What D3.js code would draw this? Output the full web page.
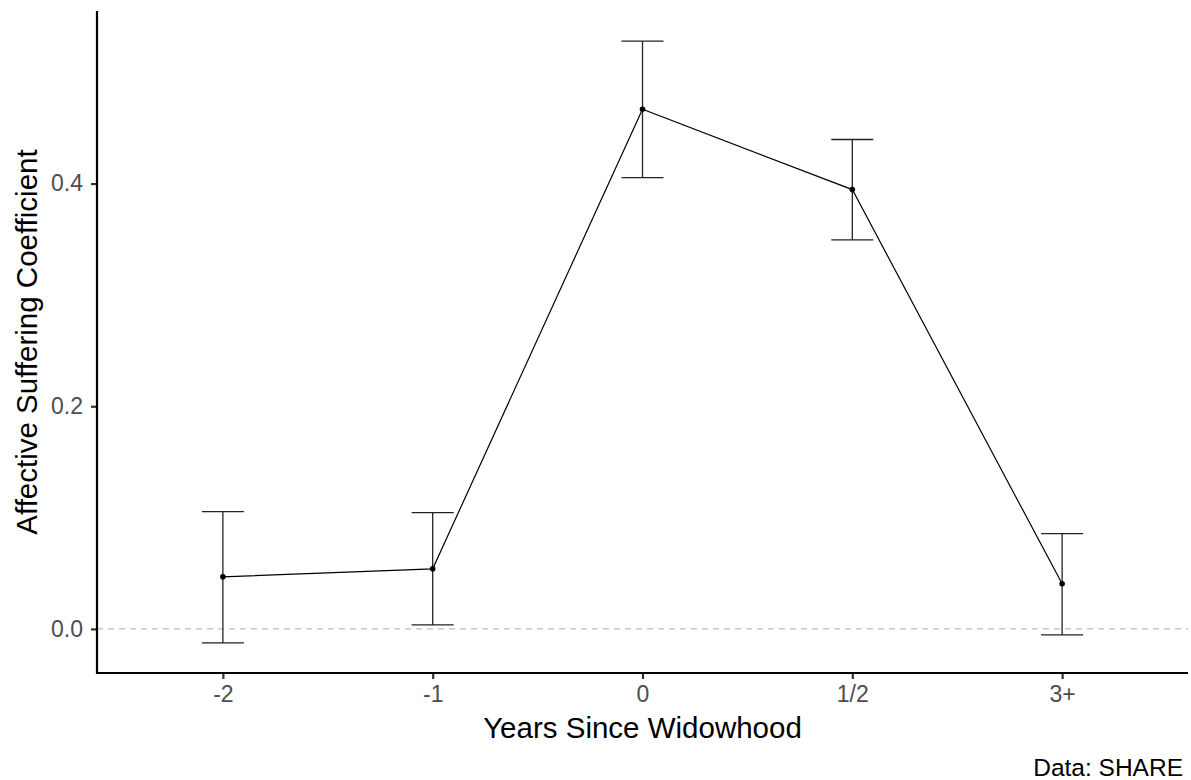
<!DOCTYPE html>
<html>
<head>
<meta charset="utf-8">
<script src="https://cdn.jsdelivr.net/npm/d3@7"></script>
<style>
  body { margin: 0; background: #fff; }
  text { font-family: "Liberation Sans", Arial, sans-serif; }
</style>
</head>
<body>
<svg id="chart" width="1191" height="780"></svg>
<script>
// data
var years = ["-2", "-1", "0", "1/2", "3+"];
var coef  = [0.0468, 0.0540, 0.4667, 0.3946, 0.0405];
var lower = [-0.0126, 0.0036, 0.4054, 0.3495, -0.0054];
var upper = [0.1054, 0.1045, 0.5280, 0.4396, 0.0856];
var yTicks = [0.0, 0.2, 0.4];

var svg = d3.select("#chart");
var pLeft = 97, pRight = 1188, pTop = 11, pBottom = 673;

var x = d3.scalePoint()
    .domain(years)
    .range([pLeft, pRight])
    .padding(0.6);   // ggplot-like 0.6 expansion on each side

var y = d3.scaleLinear()
    .domain([-0.0396, 0.555])
    .range([pBottom, pTop]);

// zero reference line
svg.append("line")
    .attr("x1", pLeft).attr("x2", pRight)
    .attr("y1", y(0)).attr("y2", y(0))
    .attr("stroke", "#bdbdbd")
    .attr("stroke-width", 1.1)
    .attr("stroke-dasharray", "6,5");

// error bars
var rows = years.map(function(d, i){ return {k: d, m: coef[i], lo: lower[i], hi: upper[i]}; });
var hw = 21;
var eb = svg.append("g").attr("stroke", "#222").attr("stroke-width", 1.3);
eb.selectAll(".v").data(rows).enter().append("line")
    .attr("x1", function(d){ return x(d.k); })
    .attr("x2", function(d){ return x(d.k); })
    .attr("y1", function(d){ return y(d.lo); })
    .attr("y2", function(d){ return y(d.hi); });
eb.selectAll(".t").data(rows).enter().append("line")
    .attr("x1", function(d){ return x(d.k) - hw; })
    .attr("x2", function(d){ return x(d.k) + hw; })
    .attr("y1", function(d){ return y(d.hi); })
    .attr("y2", function(d){ return y(d.hi); });
eb.selectAll(".b").data(rows).enter().append("line")
    .attr("x1", function(d){ return x(d.k) - hw; })
    .attr("x2", function(d){ return x(d.k) + hw; })
    .attr("y1", function(d){ return y(d.lo); })
    .attr("y2", function(d){ return y(d.lo); });

// line + points
var line = d3.line()
    .x(function(d){ return x(d.k); })
    .y(function(d){ return y(d.m); });
svg.append("path")
    .datum(rows)
    .attr("d", line)
    .attr("fill", "none")
    .attr("stroke", "#000")
    .attr("stroke-width", 1.2);
svg.selectAll("circle").data(rows).enter().append("circle")
    .attr("cx", function(d){ return x(d.k); })
    .attr("cy", function(d){ return y(d.m); })
    .attr("r", 2.8)
    .attr("fill", "#000");

// axes
var xAxis = svg.append("g")
    .attr("transform", "translate(0," + pBottom + ")")
    .call(d3.axisBottom(x).tickSize(6).tickPadding(7));
var yAxis = svg.append("g")
    .attr("transform", "translate(" + pLeft + ",0)")
    .call(d3.axisLeft(y).tickValues(yTicks).tickFormat(d3.format(".1f")).tickSize(6).tickPadding(8));

[xAxis, yAxis].forEach(function(a){
  a.attr("font-family", null).attr("font-size", null);
  a.select(".domain").remove();
  a.selectAll(".tick line").attr("stroke", "#333").attr("stroke-width", 2.2);
  a.selectAll(".tick text").attr("fill", "#4d4d4d").attr("font-size", "23px");
});

svg.append("line")
    .attr("x1", pLeft).attr("x2", pLeft)
    .attr("y1", pTop).attr("y2", pBottom + 1)
    .attr("stroke", "#000").attr("stroke-width", 2.2);
svg.append("line")
    .attr("x1", pLeft - 1).attr("x2", pRight)
    .attr("y1", pBottom).attr("y2", pBottom)
    .attr("stroke", "#000").attr("stroke-width", 2.2);

// titles
svg.append("text")
    .attr("x", (pLeft + pRight) / 2)
    .attr("y", 738)
    .attr("text-anchor", "middle")
    .attr("font-size", "29.5px")
    .text("Years Since Widowhood");

svg.append("text")
    .attr("transform", "translate(37," + (pTop + pBottom) / 2 + ") rotate(-90)")
    .attr("text-anchor", "middle")
    .attr("font-size", "29.5px")
    .text("Affective Suffering Coefficient");

svg.append("text")
    .attr("x", 1183)
    .attr("y", 776)
    .attr("text-anchor", "end")
    .attr("font-size", "24.5px")
    .text("Data: SHARE");
</script>
</body>
</html>
